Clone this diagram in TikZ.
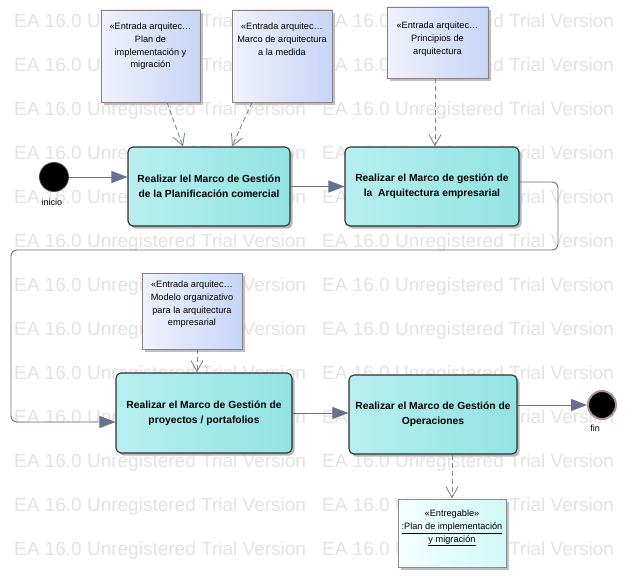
\documentclass[tikz,border=0pt]{standalone}
\usepackage{fontspec}
\setmainfont{Liberation Sans}
\usetikzlibrary{arrows.meta,shadows}
\definecolor{wmgray}{HTML}{E3E3E3}
\definecolor{actL}{HTML}{B8EFF0}
\definecolor{actR}{HTML}{92E3E3}
\definecolor{actborder}{HTML}{2E2E2E}
\definecolor{noteL}{HTML}{F0F2FC}
\definecolor{noteR}{HTML}{C6D5F7}
\definecolor{noteborder}{HTML}{8C7E7E}
\definecolor{delL}{HTML}{F4FFFF}
\definecolor{delR}{HTML}{D2F8F8}
\definecolor{connc}{HTML}{667190}
\definecolor{depc}{HTML}{7E869A}
\definecolor{endring}{HTML}{A89292}
\newcommand\noteboxtext[4]{\parbox[c][#2][t]{#1}{\centering\vspace*{#3}\strut#4}}
\tikzset{
  wm/.style={anchor=west, inner sep=0pt, text=wmgray, font=\fontsize{19}{19}\selectfont},
  act/.style={rectangle, rounded corners=5pt, draw=actborder, line width=1.1pt,
    left color=actL, right color=actR, align=center, inner sep=0pt,
    font=\fontsize{10.3}{15}\selectfont\bfseries,
    drop shadow={shadow xshift=2.5pt, shadow yshift=-2.5pt, fill=black!28, opacity=1}},
  notebox/.style={rectangle, draw=noteborder, line width=0.9pt, left color=noteL, right color=noteR,
    inner sep=0pt, font=\fontsize{9.2}{12.7}\selectfont,
    drop shadow={shadow xshift=3pt, shadow yshift=-3pt, fill=black!25, opacity=1}},
  delbox/.style={rectangle, draw=black!45, line width=0.9pt, left color=delL, right color=delR,
    inner sep=0pt, font=\fontsize{9.2}{12.7}\selectfont,
    drop shadow={shadow xshift=3pt, shadow yshift=-3pt, fill=black!25, opacity=1}},
  conn/.style={draw=connc, line width=0.9pt, -{Triangle[length=16pt,width=12pt]}},
  dep/.style={draw=depc, line width=0.9pt, dash pattern=on 5pt off 3pt,
    -{Straight Barb[length=11pt,width=12pt,line width=0.9pt]}},
  lbl/.style={inner sep=0pt, font=\fontsize{9}{10}\selectfont}
}
\begin{document}
\begin{tikzpicture}[x=1pt,y=-1pt]
\useasboundingbox (0,0) rectangle (627,578);
\fill[white] (0,0) rectangle (627,578);
% watermark
\foreach \r in {0,...,12}{
  \foreach \c/\xx in {a/14,b/322}{
    \node[wm, name=wm\c\r] at (\xx,{22.5+44*\r}) {EA 16.0 Unregistered Trial Version};
  }
}
% notes
\node[notebox] (N1) at (150.5,56) {\noteboxtext{99pt}{92pt}{11pt}{«Entrada arquitec…\\Plan de\\implementación y\\migración}};
\node[notebox] (N2) at (282,56) {\noteboxtext{100pt}{92pt}{11pt}{«Entrada arquitec…\\Marco de arquitectura\\a la medida}};
\node[notebox] (N3) at (437.5,42.5) {\noteboxtext{101pt}{71pt}{13pt}{«Entrada arquitec…\\Principios de\\arquitectura}};
\node[notebox] (N4) at (192,311) {\noteboxtext{100pt}{76pt}{6pt}{«Entrada arquitec…\\Modelo organizativo\\para la arquitectura\\empresarial}};
\node[delbox] (D) at (452,533) {\noteboxtext{108pt}{68pt}{9pt}{«Entregable»\\\underline{:Plan de implementación}\\\underline{y migración}}};
% activities
\node[act, minimum width=162pt, minimum height=79pt] (A1) at (209,186.5) {Realizar lel Marco de Gestión\\de la Planificación comercial};
\node[act, minimum width=174pt, minimum height=79pt] (A2) at (432,186.5) {Realizar el Marco de gestión de\\la\ \ Arquitectura empresarial};
\node[act, minimum width=176pt, minimum height=80pt] (A3) at (204,413) {Realizar el Marco de Gestión de\\proyectos / portafolios};
\node[act, minimum width=168pt, minimum height=79pt] (A4) at (433,414.5) {Realizar el Marco de Gestión de\\Operaciones};
% start / end
\node[circle, fill=black, draw=black!75, line width=0.8pt, minimum size=29pt, inner sep=0pt] (start) at (54,177) {};
\node[circle, fill=black, draw=endring, line width=2pt, minimum size=28pt, inner sep=0pt] (fin) at (602,405) {};
\node[lbl] (linicio) at (52,202) {inicio};
\node[lbl] (lfin) at (595,428) {fin};
% connectors
\coordinate (c1) at (558,250);
\coordinate (c2) at (11,250);
\draw[conn] (start) -- (start -| A1.west);
\draw[conn] (A1.east) -- (A2.west);
\draw[conn, rounded corners=6pt] ([yshift=4.5pt]A2.east) -| (c1) -- (c2) |- ([yshift=-9pt]A3.west);
\draw[conn] (A3.east) -- (A3.east -| A4.west);
\draw[conn] (A4.east |- fin) -- (fin);
% dependencies
\draw[dep] ([xshift=16.5pt]N1.south) -- ([xshift=-26pt]A1.north);
\draw[dep] ([xshift=-30pt]N2.south) -- ([xshift=23pt]A1.north);
\draw[dep] ([xshift=-2.5pt]N3.south) -- ([xshift=-2.5pt]N3.south |- A2.north);
\draw[dep] ([xshift=5pt]N4.south) -- ([xshift=5pt]N4.south |- A3.north);
\draw[dep] (D.north |- A4.south) -- (D.north);
\end{tikzpicture}
\end{document}
